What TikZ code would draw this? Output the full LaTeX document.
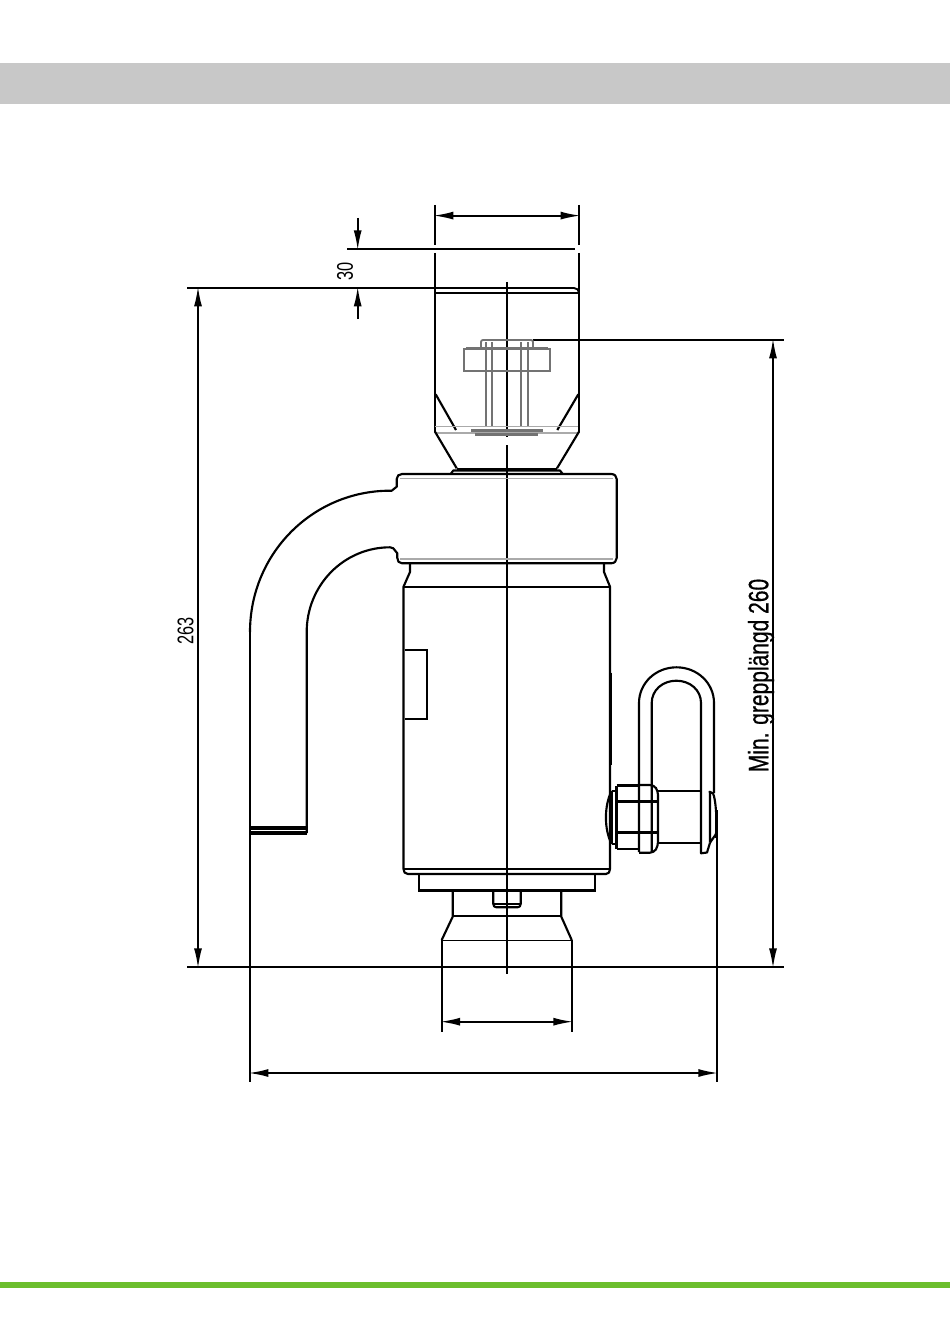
\documentclass[tikz,border=0pt]{standalone}
\usepackage{fontspec}
\setmainfont[FakeStretch=0.72]{Liberation Sans}
\newfontfamily\gripfont[FakeStretch=0.75,FakeBold=0.5]{Liberation Sans}
\usetikzlibrary{arrows.meta}
\definecolor{bandgray}{RGB}{200,200,200}
\definecolor{bandgreen}{RGB}{108,190,45}
\definecolor{partgray}{RGB}{115,115,115}
\definecolor{edgegray}{RGB}{170,170,170}
\tikzset{
  outline/.style={line width=1.6pt,line join=round},
  thinline/.style={line width=1.2pt},
  thickline/.style={line width=2pt},
  dimline/.style={line width=1.4pt},
  dimarrow/.style={line width=1.4pt,shorten >=-1.2pt,shorten <=-1.2pt,{Latex[length=15pt,width=6pt]}-{Latex[length=15pt,width=6pt]}},
  dimtip/.style={line width=1.4pt,shorten >=-1.2pt,-{Latex[length=15pt,width=6pt]}},
  innerpart/.style={line width=1.4pt,color=partgray},
  edgeline/.style={line width=1.1pt,color=edgegray}
}
\begin{document}
\begin{tikzpicture}[x=0.75pt,y=0.75pt,yscale=-1,xscale=1]
        \useasboundingbox (0,0) rectangle (950,1344);
        %Bands
        \fill [bandgray] (0,63) rectangle (950,104);
        \fill [bandgreen] (0,1282) rectangle (950,1288);
        %Named points of the dimension lines
        \coordinate (topL) at (435,215.6);
        \coordinate (topR) at (579,215.6);
        \coordinate (gapA) at (357.7,248.7);
        \coordinate (gapB) at (357.7,288);
        \coordinate (gapAfree) at (357.7,218);
        \coordinate (gapBfree) at (357.7,319);
        \coordinate (leftT) at (198,288);
        \coordinate (leftB) at (198,966.7);
        \coordinate (gripT) at (773,340);
        \coordinate (gripB) at (773,966.7);
        \coordinate (footL) at (441.7,1021.7);
        \coordinate (footR) at (571.7,1021.7);
        \coordinate (wideL) at (250,1073);
        \coordinate (wideR) at (716.7,1073);
        %Extension lines
        \draw [dimline] (435,205) -- (435,245) (435,253) -- (435,431.7);
        \draw [dimline] (579,205) -- (579,245) (579,253) -- (579,431.7);
        \draw [dimline] (347,248.7) -- (575,248.7);
        \draw [dimline] (187,288) -- (574,288) .. controls (577,288) and (579,290) .. (579,293);
        \draw [dimline] (533,340) -- (784,340);
        \draw [thinline,line width=1.8pt] (187,966.7) -- (784,966.7);
        \draw [dimline] (441.7,940) -- (441.7,1032);
        \draw [dimline] (571.7,940) -- (571.7,1032);
        \draw [dimline] (250,632) -- (250,1082);
        \draw [dimline] (716.7,838) -- (716.7,1082);
        %Dimension arrows
        \draw [dimarrow] (topL) -- (topR);
        \draw [dimtip] (gapAfree) -- (gapA);
        \draw [dimtip] (gapBfree) -- (gapB);
        \draw [dimarrow] (leftT) -- (leftB);
        \draw [dimarrow] (gripT) -- (gripB);
        \draw [dimarrow] (footL) -- (footR);
        \draw [dimarrow] (wideL) -- (wideR);
        %Center line
        \draw [dimline] (507,282) -- (507,437) (507,445) -- (507,974);
        %Top housing
        \draw [thinline] (435,293) -- (579,293);
        \draw [outline] (435.7,394.3) -- (456,430);
        \draw [outline] (578.3,394.3) -- (557.3,430);
        \draw [edgeline] (435,426.7) -- (578,426.7);
        \draw [edgeline] (435,433) -- (578,433);
        \draw [outline] (435,431.7) -- (456.7,468.3);
        \draw [outline] (579,431.7) -- (557,468.3);
        \draw [thickline] (457,469) -- (557,469);
        \draw [outline] (450.7,474) -- (453.3,470.5) -- (560,470.5) -- (562.7,474);
        %Inner part
        \draw [innerpart,rounded corners=1.5pt] (481,347) -- (481,340) -- (533,340) -- (533,347);
        \draw [innerpart] (466,347.7) -- (548,347.7);
        \draw [innerpart] (463.7,349) rectangle (550.3,371);
        \draw [innerpart] (485.7,342) -- (485.7,426) (492.3,342) -- (492.3,426);
        \draw [innerpart] (520.7,342) -- (520.7,426) (528.3,342) -- (528.3,426);
        \draw [partgray,line width=2.4pt] (471,430.5) -- (543,430.5);
        \draw [partgray,line width=2pt] (475,434.7) -- (538,434.7);
        %Collar and hook
        \draw [outline] (250,632) .. controls (250,553.6) and (312.7,490.7) .. (390,490.7)
          -- (391.7,490.7) -- (396.7,486.7) -- (396.7,479) .. controls (396.7,476) and (399,474) .. (402,474)
          -- (611,474) .. controls (614.5,474) and (616.7,476) .. (616.7,479)
          -- (616.7,558) .. controls (616.7,561) and (614.5,563.3) .. (611,563.3)
          -- (402,563.3) .. controls (399,563.3) and (397.3,561) .. (397.3,558) -- (397.3,553.3)
          -- (393.3,548.3) -- (390,547.3) .. controls (344,547.3) and (306.7,585) .. (306.7,632)
          -- (306.7,833);
        \draw [edgeline] (400,478.7) -- (613,478.7);
        \draw [edgeline] (400,559) -- (613,559);
        \draw [thickline,line width=2.4pt] (250,828) -- (306.7,828);
        \draw [thickline,line width=2.4pt] (250,833) -- (306.7,833);
        %Body
        \draw [outline] (410,563.3) -- (410,572) -- (403.5,586.7) -- (403.5,869)
          .. controls (403.5,872) and (405,874) .. (408,874) -- (606,874)
          .. controls (608.5,874) and (610,872) .. (610,869) -- (610,586.7) -- (604,572) -- (604,563.3);
        \draw [outline] (403.5,586.7) -- (610,586.7);
        \draw [outline] (403.5,869) -- (610,869);
        \draw [thickline] (404.5,650) -- (427,650) -- (427,719) -- (404.5,719);
        \draw [outline] (611.3,672.7) -- (611.3,765);
        %Flange and foot
        \draw [thickline] (419,874) -- (419,890.7) -- (595,890.7) -- (595,874);
        \draw [outline] (452.7,890.7) -- (452.7,916.7) -- (441.7,940);
        \draw [outline] (561.3,890.7) -- (561.3,916.7) -- (571.7,940);
        \draw [thinline,line width=0.9pt] (452.7,916) -- (561.3,916);
        \draw [thinline,line width=0.9pt] (441.7,940.5) -- (571.7,940.5);
        \draw [outline] (493.3,890.7) -- (493.3,904) .. controls (493.3,906) and (494.5,907.3) .. (496.5,907.3)
          -- (517.5,907.3) .. controls (519.5,907.3) and (520.7,906) .. (520.7,904) -- (520.7,890.7);
        \draw [thinline,line width=1pt] (493.3,904) -- (520.7,904);
        %Shackle
        \draw [outline] (639,852) -- (639,703) .. controls (639,683) and (655.8,667.3) .. (676.5,667.3)
          .. controls (697.2,667.3) and (714,683) .. (714,703) -- (714,793);
        \draw [outline] (651.7,852) -- (651.7,703) .. controls (651.7,690) and (662.7,680.7) .. (676.3,680.7)
          .. controls (690,680.7) and (701,690) .. (701,703) -- (701,853.3)
          -- (707,852.5) -- (710,842.7);
        \draw [outline] (658,791) -- (701,791);
        \draw [outline] (658,842.7) -- (701,842.7);
        \draw [outline] (710,842.7) -- (710,793) -- (709.5,791.7) -- (713,793.3)
          .. controls (716,800) and (717,820) .. (716,834) -- (710,842.7);
        \draw [thickline] (716.7,810) -- (716.7,838);
        %Nut and pin head
        \draw [thickline] (616.7,785.7) -- (639,785.7) (616.7,849) -- (639,849);
        \draw [thickline] (616.7,785.7) -- (616.7,849);
        \draw [thickline] (616.7,801.7) -- (656.7,801.7) (616.7,832.3) -- (656.7,832.3);
        \draw [outline,rounded corners=3pt] (639,785) -- (654,785) -- (658,791) -- (658,846) -- (654,852.7) -- (639,852.7);
        \draw [outline] (611.7,791) -- (616.7,791) (611.7,844) -- (616.7,844);
        \draw [outline] (611.7,791) -- (611.7,844);
        \draw [outline] (611.7,791) .. controls (604,805) and (604,830) .. (611.7,844);
        %Text Nodes
        \node [rotate=90,inner sep=0pt,font=\fontsize{17pt}{17pt}\selectfont] (labelGap) at (345,271) {30};
        \node [rotate=90,inner sep=0pt,font=\fontsize{17pt}{17pt}\selectfont] (labelHeight) at (185.5,631) {263};
        \node [rotate=90,inner sep=0pt,font=\gripfont\fontsize{21pt}{21pt}\selectfont] (labelGrip) at (761,675.5) {Min. grepplängd 260};
\end{tikzpicture}
\end{document}
